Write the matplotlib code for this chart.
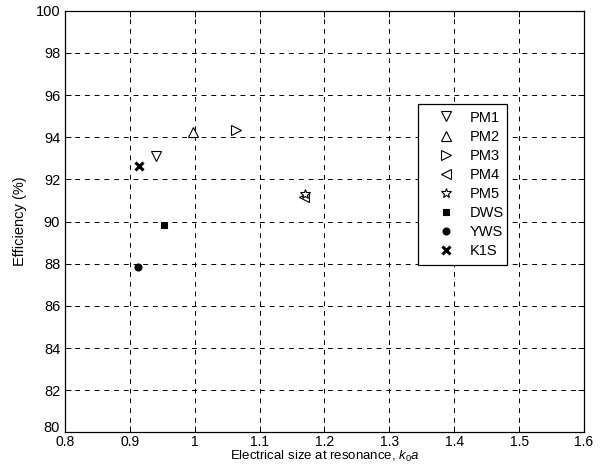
import matplotlib.pyplot as plt
import matplotlib.transforms as mtransforms
import numpy as np

plt.rcParams['font.family'] = ['Liberation Sans', 'DejaVu Sans']
plt.rcParams['mathtext.fontset'] = 'custom'
plt.rcParams['mathtext.it'] = 'Liberation Sans:italic'
plt.rcParams['mathtext.rm'] = 'Liberation Sans'

names = ["PM1", "PM2", "PM3", "PM4", "PM5", "DWS", "YWS", "K1S"]
ka = [0.940, 0.998, 1.064, 1.168, 1.170, 0.952, 0.913, 0.914]
eff = [93.1, 94.25, 94.35, 91.15, 91.3, 89.85, 87.85, 92.65]
markers = ["v", "^", ">", "<", "*", "s", "o", "x"]
filled = [False, False, False, False, False, True, True, True]

fig = plt.figure(figsize=(6.12, 4.65), dpi=100)
ax = fig.add_axes([0.1062, 0.070, 0.848, 0.907])

for i in range(len(names)):
    fc = "k" if filled[i] else "white"
    ms = 6.5
    mew = 0.8
    if markers[i] == "x":
        mew = 2.2
        ms = 5.5
    if markers[i] == "*":
        ms = 7
    if markers[i] in ("s", "o"):
        ms = 5
    ax.plot(ka[i], eff[i], linestyle="none", marker=markers[i], color="k",
            markerfacecolor=fc, markeredgecolor="k", markersize=ms,
            markeredgewidth=mew, label=names[i])

ax.set_xlim(0.8, 1.6)
ax.set_ylim(80, 100)
ax.set_xticks(np.arange(0.8, 1.61, 0.1))
ax.set_xticklabels(["0.8", "0.9", "1", "1.1", "1.2", "1.3", "1.4", "1.5", "1.6"])
ax.set_yticks(np.arange(80, 101, 2))
ax.grid(True, color="k", linestyle=(0, (5, 5)), linewidth=0.7)
ax.tick_params(direction="in", top=True, right=True, length=4, labelsize=10.5, width=0.7)
ax.tick_params(axis="x", pad=1.5, labelsize=10)
for s in ax.spines.values():
    s.set_linewidth(0.9)

# lift the "80" label a little so it clears "0.8" (as in the original)
lab80 = ax.get_yticklabels()[0]
lab80.set_transform(lab80.get_transform() +
                    mtransforms.ScaledTranslation(0, 4 / 72, fig.dpi_scale_trans))

ax.set_xlabel("Electrical size at resonance, $k_0a$", fontsize=9.5, labelpad=0)
ax.set_ylabel("Efficiency (%)", fontsize=10.5, labelpad=6)

leg = ax.legend(loc="lower left", bbox_to_anchor=(0.666, 0.38, 0.2, 0.3725),
                mode="expand", fontsize=10.5,
                frameon=True, fancybox=False, edgecolor="k", framealpha=1,
                handlelength=2.9, handletextpad=0.2, borderpad=0.45,
                labelspacing=0.35, numpoints=1)
leg.get_frame().set_linewidth(0.9)

plt.savefig("out.png", dpi=100)
